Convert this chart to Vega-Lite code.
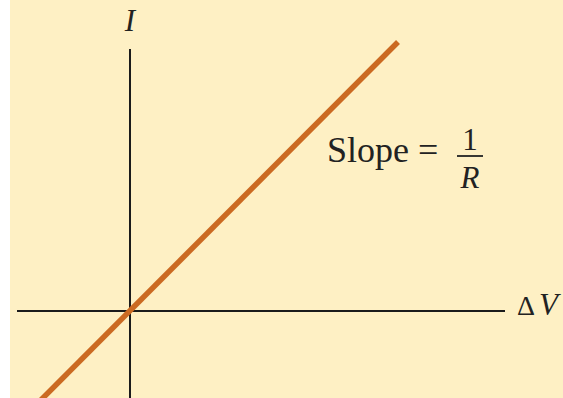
{
  "$schema": "https://vega.github.io/schema/vega-lite/v6.json",
  "width": 563,
  "height": 398,
  "autosize": {"type": "fit", "contains": "padding"},
  "padding": {"left": 10, "top": 0, "right": 0, "bottom": 0},
  "background": "#ffffff",
  "config": {"view": {"stroke": null, "fill": "#FEF0C4"}},
  "datasets": {
    "hAxis": [{"x": -1.13, "x2": 3.75, "y": 0}],
    "vAxis": [{"x": 0, "y": -0.9, "y2": 2.62}],
    "fn": [{"dv": -1.3, "i": -1.3}, {"dv": 2.68, "i": 2.69}],
    "bar": [{"x": 3.27, "x2": 3.53, "y": 1.55}],
    "italicCenter": [
      {"x": 0.0, "y": 2.8, "t": "I"},
      {"x": 3.40, "y": 1.23, "t": "R"}
    ],
    "italicLeft": [{"x": 4.09, "y": -0.04, "t": "V"}],
    "delta": [{"x": 3.87, "y": -0.04, "t": "Δ"}],
    "normalLeft": [{"x": 1.97, "y": 1.49, "t": "Slope ="}],
    "normalCenter": [{"x": 3.40, "y": 1.61, "t": "1"}]
  },
  "layer": [
    {
      "data": {"name": "hAxis"},
      "mark": {"type": "rule", "color": "#1b1b1b", "strokeWidth": 2},
      "encoding": {
        "x": {"field": "x", "type": "quantitative", "scale": {"domain": [-1.2, 4.33], "nice": false, "zero": false}, "axis": null},
        "x2": {"field": "x2"},
        "y": {"field": "y", "type": "quantitative", "scale": {"domain": [-0.87, 3.11], "nice": false, "zero": false}, "axis": null}
      }
    },
    {
      "data": {"name": "vAxis"},
      "mark": {"type": "rule", "color": "#1b1b1b", "strokeWidth": 2, "clip": true},
      "encoding": {
        "x": {"field": "x", "type": "quantitative"},
        "y": {"field": "y", "type": "quantitative"},
        "y2": {"field": "y2"}
      }
    },
    {
      "data": {"name": "fn"},
      "mark": {"type": "line", "color": "#CB6A22", "strokeWidth": 5.5, "clip": true, "strokeCap": "butt"},
      "encoding": {
        "x": {"field": "dv", "type": "quantitative"},
        "y": {"field": "i", "type": "quantitative"}
      }
    },
    {
      "data": {"name": "bar"},
      "mark": {"type": "rule", "color": "#222222", "strokeWidth": 1.8},
      "encoding": {
        "x": {"field": "x", "type": "quantitative"},
        "x2": {"field": "x2"},
        "y": {"field": "y", "type": "quantitative"}
      }
    },
    {
      "data": {"name": "italicCenter"},
      "mark": {"type": "text", "font": "Liberation Serif", "fontStyle": "italic", "fontSize": 31, "align": "center", "color": "#222222", "baseline": "alphabetic"},
      "encoding": {
        "x": {"field": "x", "type": "quantitative"},
        "y": {"field": "y", "type": "quantitative"},
        "text": {"field": "t"}
      }
    },
    {
      "data": {"name": "italicLeft"},
      "mark": {"type": "text", "font": "Liberation Serif", "fontStyle": "italic", "fontSize": 31, "align": "left", "color": "#222222", "baseline": "alphabetic"},
      "encoding": {
        "x": {"field": "x", "type": "quantitative"},
        "y": {"field": "y", "type": "quantitative"},
        "text": {"field": "t"}
      }
    },
    {
      "data": {"name": "delta"},
      "mark": {"type": "text", "font": "Liberation Serif", "fontSize": 28, "align": "left", "color": "#222222", "baseline": "alphabetic"},
      "encoding": {
        "x": {"field": "x", "type": "quantitative"},
        "y": {"field": "y", "type": "quantitative"},
        "text": {"field": "t"}
      }
    },
    {
      "data": {"name": "normalLeft"},
      "mark": {"type": "text", "font": "Liberation Serif", "fontSize": 36, "align": "left", "color": "#222222", "baseline": "alphabetic"},
      "encoding": {
        "x": {"field": "x", "type": "quantitative"},
        "y": {"field": "y", "type": "quantitative"},
        "text": {"field": "t"}
      }
    },
    {
      "data": {"name": "normalCenter"},
      "mark": {"type": "text", "font": "Liberation Serif", "fontSize": 31, "align": "center", "color": "#222222", "baseline": "alphabetic"},
      "encoding": {
        "x": {"field": "x", "type": "quantitative"},
        "y": {"field": "y", "type": "quantitative"},
        "text": {"field": "t"}
      }
    }
  ]
}
